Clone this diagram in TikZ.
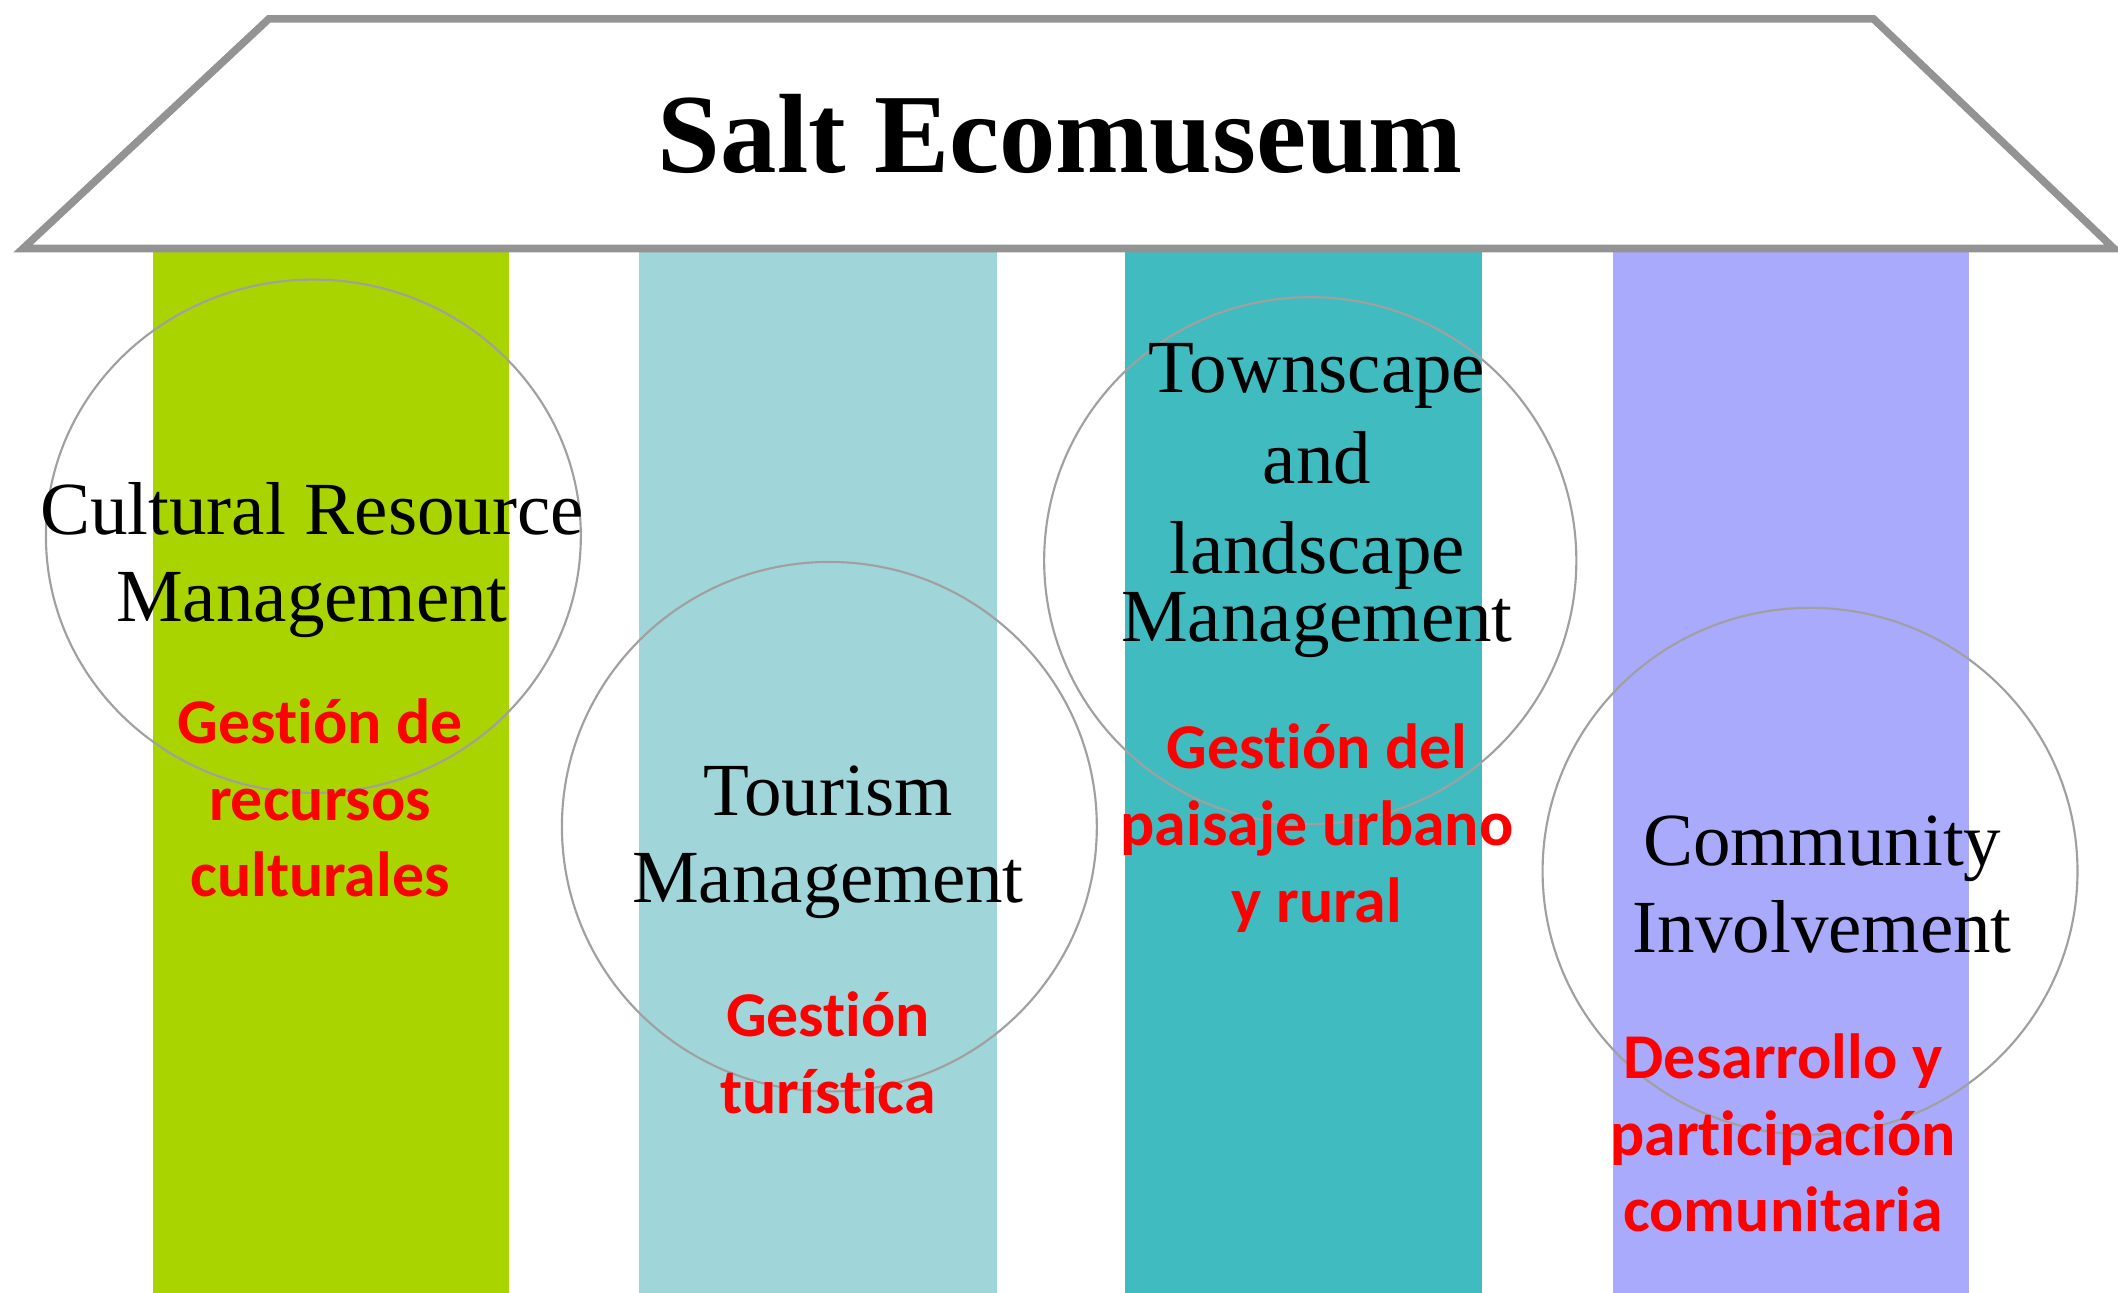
\documentclass[tikz,border=0pt]{standalone}
\usepackage{fontspec}
\setmainfont{Liberation Serif}
\newfontfamily\calibri[Ligatures={NoCommon}]{Carlito}
\definecolor{pilarA}{RGB}{170,212,0}
\definecolor{pilarB}{RGB}{160,213,218}
\definecolor{pilarC}{RGB}{64,188,192}
\definecolor{pilarD}{RGB}{170,170,253}
\definecolor{roofgray}{RGB}{147,147,147}
\definecolor{ringgray}{RGB}{160,160,160}
\begin{document}
\begin{tikzpicture}[x=0.02cm,y=-0.02cm,
	en/.style={font=\fontsize{31.6}{36.5}\selectfont, align=center, inner sep=0pt},
	es/.style={font=\calibri\bfseries\fontsize{26.9}{32.4}\selectfont, text=red, align=center, inner sep=0pt},
	ring/.style={draw=ringgray, line width=0.9pt}]
	\useasboundingbox (0,0) rectangle (1568,957);
	% pillars
	\fill[pilarA] (113,185) rectangle (377,957);
	\fill[pilarB] (473,185) rectangle (738,957);
	\fill[pilarC] (833,185) rectangle (1097,957);
	\fill[pilarD] (1194,185) rectangle (1458,957);
	% roof
	\draw[roofgray, line width=3.2pt, fill=white] (17,184) -- (199,14) -- (1387,14) -- (1565,184) -- cycle;
	\node[font=\bfseries\fontsize{47.5}{57}\selectfont, anchor=base, inner sep=0pt] (title) at (785,128) {Salt Ecomuseum};
	% rings
	\draw[ring] (232,397) ellipse [x radius=198, y radius=190];
	\draw[ring] (614,612) ellipse [x radius=198, y radius=196];
	\draw[ring] (970,415) ellipse [x radius=197, y radius=195];
	\draw[ring] (1340,645) ellipse [x radius=198, y radius=195];
	% labels (base = last line)
	\node[en, anchor=base] (cultural) at (231,460) {Cultural Resource\\Management};
	\node[es, anchor=base] (cultural-es) at (237,664) {Gestión de\\recursos\\culturales};
	\node[en, anchor=base] (tourism) at (613,668) {Tourism\\Management};
	\node[es, anchor=base] (tourism-es) at (613,824) {Gestión\\turística};
	\node[en, font=\fontsize{31.6}{38.2}\selectfont, anchor=base] (townscape) at (975,475) {Townscape\\and\\landscape\\[-9.6pt]Management};
	\node[es, anchor=base] (townscape-es) at (975,683) {Gestión del\\paisaje urbano\\y rural};
	\node[en, anchor=base] (community) at (1349,705) {Community\\Involvement};
	\node[es, anchor=base] (community-es) at (1320,912) {Desarrollo y\\participación\\comunitaria};
\end{tikzpicture}
\end{document}
